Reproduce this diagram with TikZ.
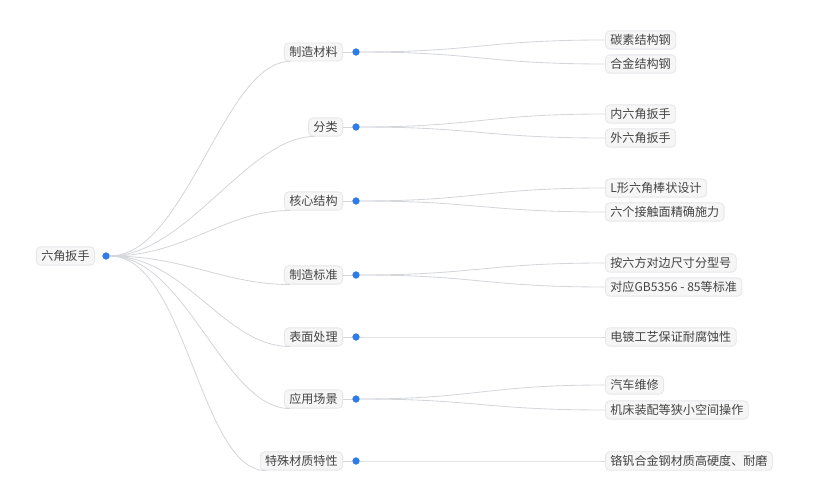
\documentclass[tikz,border=0pt]{standalone}
\usepackage{fontspec}
\setmainfont{Noto Sans CJK SC}
\usetikzlibrary{calc}
\definecolor{linegray}{HTML}{D4D6DA}
\definecolor{boxfill}{HTML}{F6F6F7}
\definecolor{boxline}{HTML}{E6E7E9}
\definecolor{dotblue}{HTML}{2F7CE8}
\definecolor{textgray}{HTML}{444444}
\tikzset{
  topic/.style={draw=boxline, fill=boxfill, rounded corners=3pt, text=textgray,
    font=\fontsize{8.6}{10}\selectfont, inner xsep=3.5pt, inner ysep=2.5pt, line width=0.6pt},
  dot/.style={circle, fill=dotblue, inner sep=0pt, minimum size=5pt},
  link/.style={draw=linegray, line width=0.6pt}
}
\begin{document}
\begin{tikzpicture}[x=0.025cm, y=-0.025cm]
  \useasboundingbox (0,0) rectangle (813,497);
  % Root node
  \node[topic, anchor=east] (root) at (95,256) {六角扳手};
  \node[dot] (rootdot) at (106,256) {};

  % First level
  \foreach \name/\y/\txt in {m/52/制造材料, c/127/分类, s/201/核心结构, b/275/制造标准,
                             f/337/表面处理, a/399/应用场景, t/461/特殊材质特性}{
    \node[topic, anchor=east] (\name) at (343,\y) {\txt};
    \node[dot] (\name dot) at (356,\y) {};
    \draw[link] (rootdot) .. controls ($(rootdot)+(80,0)$) and ($(\name.south west)+(-60,0)$) .. ($(\name.south west)+(6,0)$);
    \draw[link] (\name.east) -- (\name dot);
  }

  % Second level
  \foreach \parent/\name/\y/\txt in {m/m1/40/碳素结构钢, m/m2/64/合金结构钢,
      c/c1/114/内六角扳手, c/c2/138/外六角扳手,
      s/s1/188/L形六角棒状设计, s/s2/212/六个接触面精确施力,
      b/b1/263/按六方对边尺寸分型号, b/b2/287/对应GB5356 - 85等标准,
      f/f1/337/电镀工艺保证耐腐蚀性,
      a/a1/385/汽车维修, a/a2/410/机床装配等狭小空间操作,
      t/t1/461/铬钒合金钢材质高硬度、耐磨}{
    \node[topic, anchor=west] (\name) at (605,\y) {\txt};
    \draw[link] (\parent dot) .. controls ($(\parent dot)+(120,0)$) and ($(\name.west)+(-120,0)$) .. (\name.west);
  }
  % dots on top
  \foreach \name in {m,c,s,b,f,a,t}{\node[dot] at (\name dot) {};}
  \node[dot] at (rootdot) {};
\end{tikzpicture}
\end{document}
